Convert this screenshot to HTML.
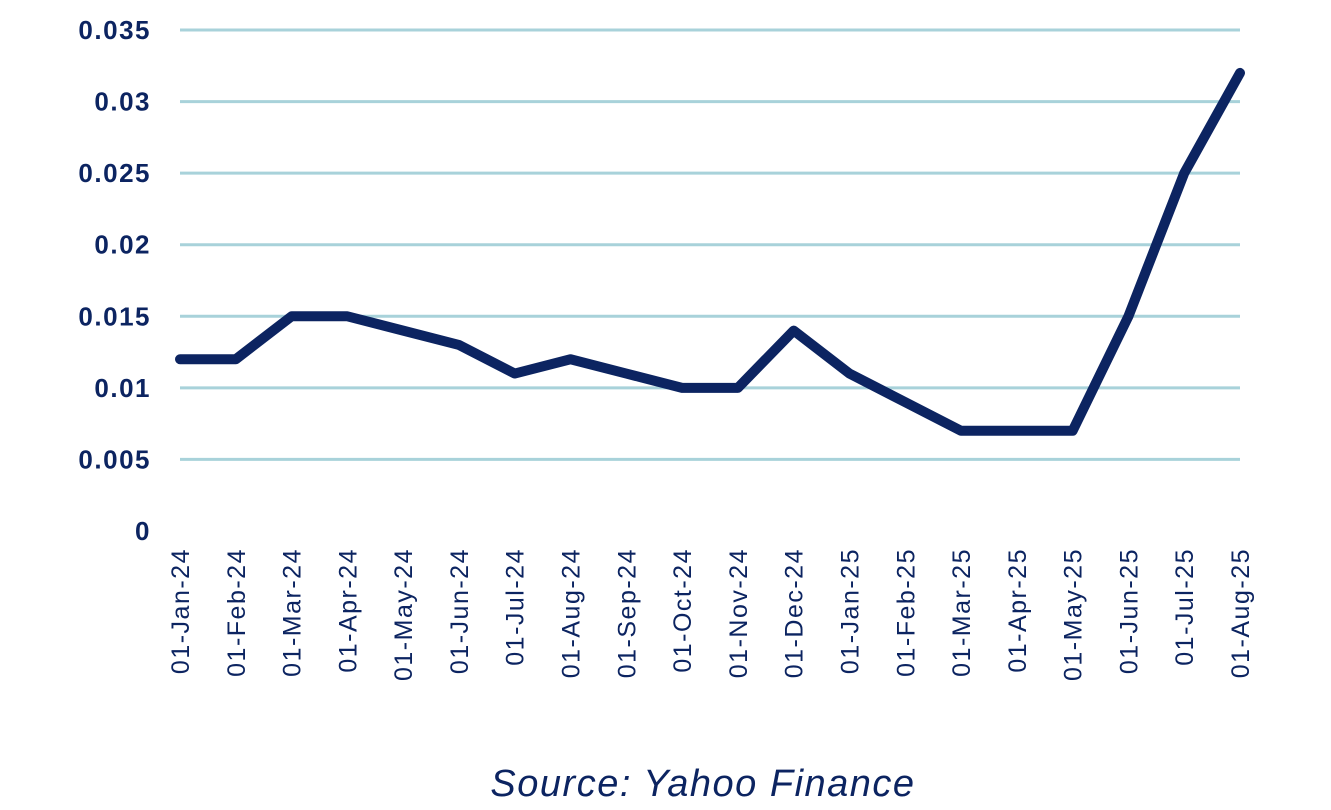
<!DOCTYPE html>
<html><head><meta charset="utf-8"><style>
html,body{margin:0;padding:0;background:#fff;}
svg{display:block;font-family:"Liberation Sans",sans-serif;}
</style></head><body>
<svg id="chart" width="1331" height="810"></svg>
<script>
const categories=["01-Jan-24","01-Feb-24","01-Mar-24","01-Apr-24","01-May-24","01-Jun-24","01-Jul-24","01-Aug-24","01-Sep-24","01-Oct-24","01-Nov-24","01-Dec-24","01-Jan-25","01-Feb-25","01-Mar-25","01-Apr-25","01-May-25","01-Jun-25","01-Jul-25","01-Aug-25"];
const values=[0.012,0.012,0.015,0.015,0.014,0.013,0.011,0.012,0.011,0.010,0.010,0.014,0.011,0.009,0.007,0.007,0.007,0.015,0.025,0.032];
const yTicks=[0,0.005,0.01,0.015,0.02,0.025,0.03,0.035];
const yTickLabels=["0","0.005","0.01","0.015","0.02","0.025","0.03","0.035"];
const NS="http://www.w3.org/2000/svg";
const svg=document.getElementById('chart');
const x0=180,x1=1240,yBase=531,yTop=30,yMax=0.035;
const xs=i=>x0+i*(x1-x0)/(categories.length-1);
const ys=v=>yBase-v/yMax*(yBase-yTop);
function mk(t,a){const e=document.createElementNS(NS,t);for(const k in a)e.setAttribute(k,a[k]);svg.appendChild(e);return e;}
yTicks.forEach((v,i)=>{
  if(v>0){const g=mk('line',{x1:x0,x2:x1,y1:ys(v),y2:ys(v),stroke:'#a8d2da','stroke-width':3});
  
  }
  const t=mk('text',{x:151,y:ys(v)+9,'text-anchor':'end','font-size':26,'font-weight':'bold','letter-spacing':1.5,fill:'#0c2461'});
  t.textContent=yTickLabels[i];
  
  
});
categories.forEach((c,i)=>{
  const x=xs(i)+9,y=548;
  const t=mk('text',{x:x,y:y,transform:`rotate(-90 ${x} ${y})`,'text-anchor':'end','font-size':25,'letter-spacing':1.5,fill:'#0c2461'});
  t.textContent=c;
  
  
});
const p=mk('polyline',{points:values.map((v,i)=>xs(i)+','+ys(v)).join(' '),fill:'none',stroke:'#0c2461','stroke-width':10,'stroke-linejoin':'round','stroke-linecap':'round'});


const s=mk('text',{x:703,y:796,'text-anchor':'middle','font-size':38,'font-style':'italic','letter-spacing':1.5,fill:'#0c2461'});
s.textContent='Source: Yahoo Finance';


</script>
</body></html>
